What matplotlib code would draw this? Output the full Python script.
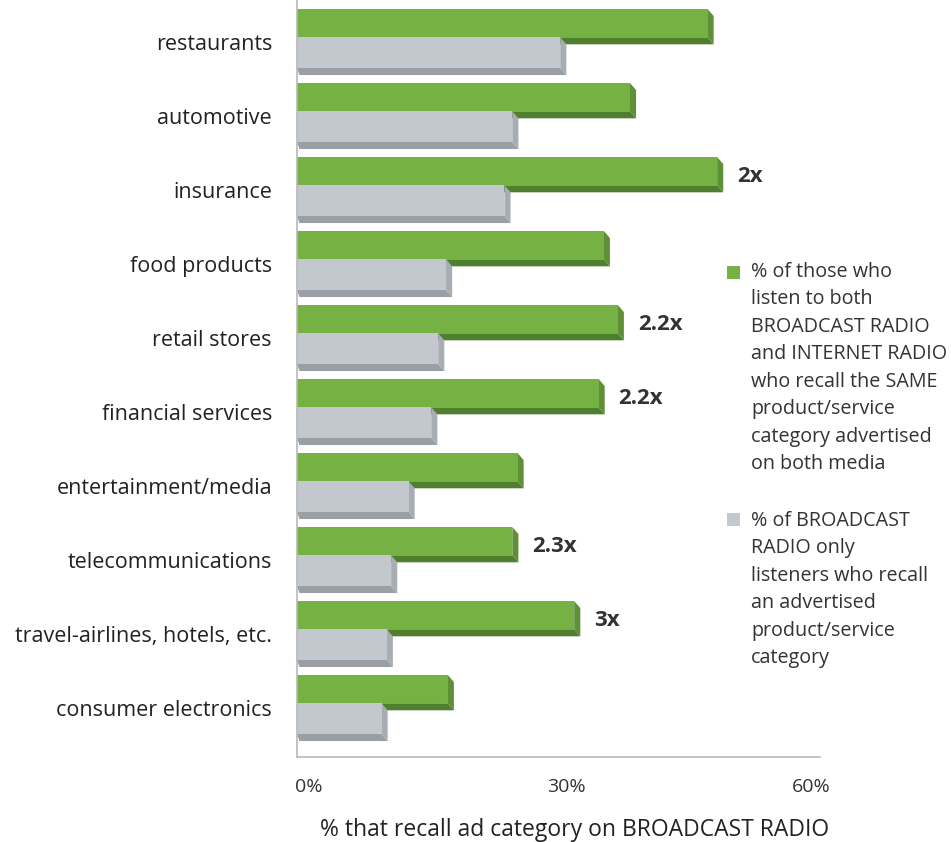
import matplotlib.pyplot as plt
import matplotlib.transforms as mtrans
from matplotlib.patches import Polygon

plt.rcParams['font.family'] = ['Open Sans', 'DejaVu Sans']

categories = ['restaurants', 'automotive', 'insurance', 'food products', 'retail stores',
              'financial services', 'entertainment/media', 'telecommunications',
              'travel-airlines, hotels, etc.', 'consumer electronics']
both_media = [47.1, 38.2, 48.2, 35.2, 36.8, 34.6, 25.3, 24.7, 31.8, 17.3]
broadcast_only = [30.2, 24.7, 23.8, 17.1, 16.2, 15.4, 12.8, 10.8, 10.3, 9.7]
multipliers = {2: '2x', 4: '2.2x', 5: '2.2x', 7: '2.3x', 8: '3x'}

legend_both = ("% of those who\nlisten to both\nBROADCAST RADIO\nand INTERNET RADIO\n"
               "who recall the SAME\nproduct/service\ncategory advertised\non both media")
legend_broadcast = ("% of BROADCAST\nRADIO only\nlisteners who recall\nan advertised\n"
                    "product/service\ncategory")

green = ('#76b143', '#4e7f2f', '#5f9037')
grey = ('#c3c7ce', '#9a9ea5', '#a8acb3')
dx, dy = 0.7, 0.095


def bar3d(ax, y0, y1, width, cols):
    front, bottom, side = cols
    # bottom face
    ax.add_patch(Polygon([(0, y1), (width, y1), (width + dx, y1 + dy), (dx * 0.4, y1 + dy)],
                         closed=True, fc=bottom, ec='none'))
    # right face
    ax.add_patch(Polygon([(width, y0), (width + dx, y0 + dy), (width + dx, y1 + dy), (width, y1)],
                         closed=True, fc=side, ec='none'))
    ax.add_patch(Polygon([(0, y0), (width, y0), (width, y1), (0, y1)],
                         closed=True, fc=front, ec='none'))


fig = plt.figure(figsize=(9.51, 8.42), dpi=100)
ax = fig.add_axes([297 / 951, 85 / 842, 523 / 951, 757 / 842])

for i, (g, s) in enumerate(zip(both_media, broadcast_only)):
    bar3d(ax, i - 0.446, i - 0.064, g, green)
    bar3d(ax, i - 0.064, i + 0.351, s, grey)
    if i in multipliers:
        ax.text(g + 2.3, i - 0.18, multipliers[i], fontsize=16, fontweight='bold',
                color='#333333', va='center', ha='left')

ax.set_xlim(0, 60)
ax.set_ylim(9.662, -0.568)
ax.set_yticks(range(len(categories)))
ax.set_yticklabels(categories, fontsize=15.5, color='#222222')
ax.set_xticks([0, 30, 60])
ax.set_xticklabels(['0%', '30%', '60%'], fontsize=14, color='#333333')
ax.tick_params(axis='y', length=0, pad=18)
ax.tick_params(axis='x', length=0, pad=15)
# the source nudges the % labels inwards a little
for lab, shift in zip(ax.get_xticklabels(), [12, 8, -9]):
    lab.set_transform(lab.get_transform() + mtrans.ScaledTranslation(shift / 100, 0, fig.dpi_scale_trans))
for sp in ['top', 'right']:
    ax.spines[sp].set_visible(False)
for sp in ['left', 'bottom']:
    ax.spines[sp].set_color('#b8b8b8')
    ax.spines[sp].set_linewidth(1.2)
ax.set_xlabel('% that recall ad category on BROADCAST RADIO', fontsize=16.5,
              color='#222222')
ax.xaxis.set_label_coords((575 - 297) / 523, -61 / 757)

# legend
fig.patches.append(plt.Rectangle((727 / 951, 1 - 279 / 842), 13 / 951, 13 / 842,
                                 transform=fig.transFigure, fc=green[0], ec='none'))
fig.text(751 / 951, 1 - 262 / 842, legend_both, fontsize=14.2, color='#333333',
         va='top', ha='left', linespacing=1.5)
fig.patches.append(plt.Rectangle((727 / 951, 1 - 526 / 842), 13 / 951, 13 / 842,
                                 transform=fig.transFigure, fc=grey[0], ec='none'))
fig.text(751 / 951, 1 - 511 / 842, legend_broadcast, fontsize=14.2, color='#333333',
         va='top', ha='left', linespacing=1.5)

fig.savefig('out.png', dpi=100)
